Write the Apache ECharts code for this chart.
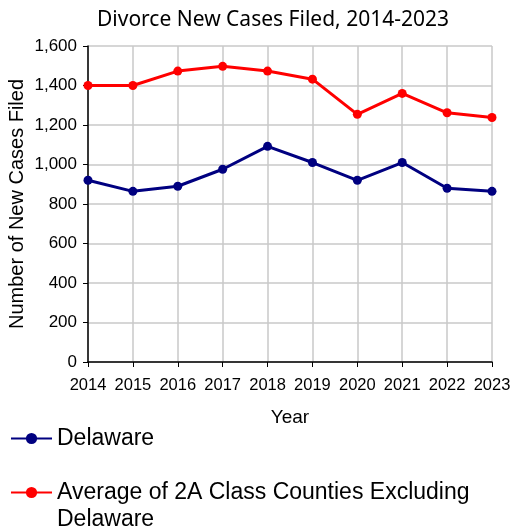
<!DOCTYPE html>
<html><head><meta charset="utf-8">
<script src="https://cdn.jsdelivr.net/npm/echarts@6/dist/echarts.min.js"></script>
<style>html,body{margin:0;padding:0;background:#fff}#c{width:513px;height:531px}</style>
</head><body><div id="c"></div>
<script>
const years = ['2014','2015','2016','2017','2018','2019','2020','2021','2022','2023'];
const delaware = [920, 864, 890, 976, 1092, 1010, 920, 1010, 880, 864];
const avg2A = [1400, 1400, 1473, 1497, 1473, 1432, 1254, 1360, 1262, 1238];
const seriesNames = ['Delaware', 'Average of 2A Class Counties Excluding Delaware'];
const titleText = 'Divorce New Cases Filed, 2014-2023';

const chart = echarts.init(document.getElementById('c'), null, {renderer:'canvas'});
const legendText = {fontFamily:'Liberation Sans, Arial, sans-serif', fontSize:23, color:'#000'};
chart.setOption({
  animation:false,
  title:{text:titleText, left:268, textAlign:'center', top:5,
    textStyle:{fontFamily:'Noto Sans', fontSize:21, fontWeight:'normal', color:'#000'}},
  grid:{left:88, right:21, top:46, bottom:169, containLabel:false, outerBoundsMode:'none'},
  legend:[
    {data:[seriesNames[0]], orient:'vertical', left:10, top:427, padding:0, itemWidth:41, itemHeight:14, itemGap:0,
     textStyle:legendText},
    {data:[seriesNames[1]], orient:'vertical', left:10, top:452, padding:0, itemWidth:41, itemHeight:14, itemGap:0,
     formatter: function(n){ return '\nAverage of 2A Class Counties Excluding\nDelaware'; },
     textStyle:Object.assign({}, legendText, {lineHeight:27})}
  ],
  xAxis:{type:'category', data:years, boundaryGap:false,
    name:'Year', nameLocation:'middle', nameGap:46, nameMoveOverlap:false,
    nameTextStyle:{fontFamily:'Liberation Sans', fontSize:19, color:'#000'},
    axisLine:{lineStyle:{color:'#000', width:1.5}},
    axisTick:{show:true, length:5, lineStyle:{color:'#000'}},
    axisLabel:{fontFamily:'Liberation Sans', fontSize:16.5, color:'#000', margin:15, interval:0},
    splitLine:{show:true, lineStyle:{color:'#c8c8c8', width:1.5}}},
  yAxis:{type:'value', min:0, max:1600, interval:200,
    name:'Number of New Cases Filed', nameLocation:'middle', nameGap:61, nameMoveOverlap:false,
    nameTextStyle:{fontFamily:'Liberation Sans', fontSize:20, color:'#000'},
    axisLine:{show:true, lineStyle:{color:'#000', width:1.5}},
    axisTick:{show:true, length:5, lineStyle:{color:'#000'}},
    axisLabel:{fontFamily:'Liberation Sans', fontSize:17, color:'#000', margin:11,
      formatter:function(v){return v.toLocaleString('en-US');}},
    splitLine:{show:true, lineStyle:{color:'#c8c8c8', width:1.5}}},
  series:[
    {name:seriesNames[0], type:'line', data:delaware, color:'#000080',
     symbol:'circle', symbolSize:9, lineStyle:{width:3}},
    {name:seriesNames[1], type:'line', data:avg2A, color:'#ff0000',
     symbol:'circle', symbolSize:9, lineStyle:{width:3}}
  ]
});
</script></body></html>
